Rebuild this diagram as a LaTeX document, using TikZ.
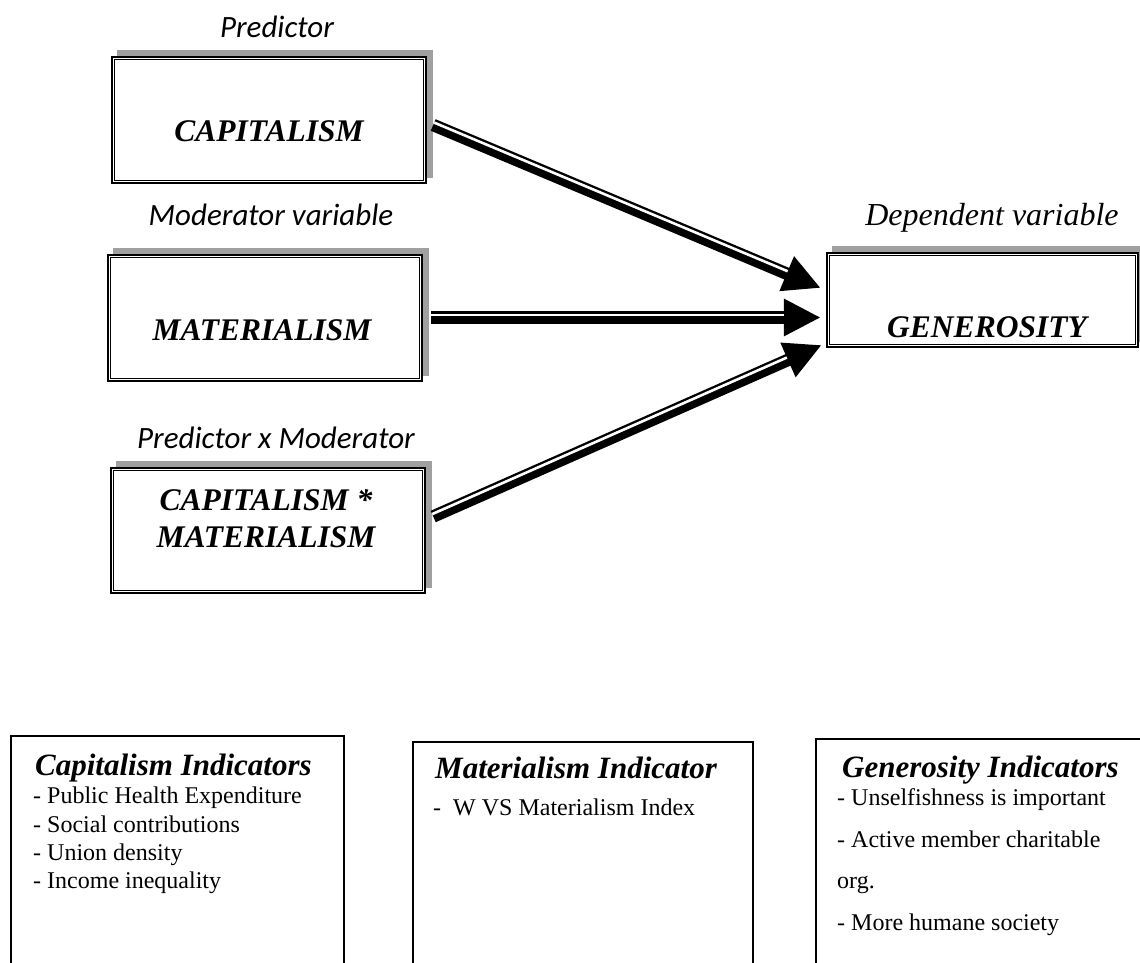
\documentclass[tikz,border=0pt]{standalone}
\usepackage{fontspec}
\setmainfont{Liberation Serif}
\newfontfamily\calib{Carlito}
\usetikzlibrary{arrows.meta,calc,backgrounds}
\definecolor{shgray}{HTML}{A0A0A0}
\begin{document}
\begin{tikzpicture}[x=1pt,y=-1pt,
  dbox/.style={draw, line width=2.4pt, fill=white, inner sep=0pt},
  innerframe/.style={draw, line width=1pt},
  vlabel/.style={font=\calib\itshape\fontsize{31}{36}\selectfont, anchor=base, inner sep=0pt},
  boxtext/.style={font=\bfseries\itshape\fontsize{31.5}{37}\selectfont, anchor=base, inner sep=0pt},
  ibox/.style={draw, line width=2pt, inner sep=0pt, anchor=north west},
  ititle/.style={font=\bfseries\itshape\fontsize{31}{36}\selectfont, anchor=base west, inner sep=0pt},
  itemtext/.style={font=\fontsize{24}{28}\selectfont, anchor=base west, inner sep=0pt},
  shaft/.style={line width=12.5pt, -{Triangle[length=37pt,width=35pt]}},
  gapline/.style={white, line width=2.6pt}
]
\useasboundingbox (0,0) rectangle (1140,963);
\clip (0,0) rectangle (1140,963);

% main boxes
\node[dbox, minimum width=314pt, minimum height=126pt] (cap) at (269,120) {};
\node[dbox, minimum width=314pt, minimum height=126pt] (mat) at (265,318) {};
\node[dbox, minimum width=314pt, minimum height=125pt] (cm) at (268,530.5) {};
\node[dbox, minimum width=311pt, minimum height=94pt] (gen) at (982.5,300) {};

\begin{scope}[on background layer]
  \foreach \n in {cap,mat,cm,gen}
    \fill[shgray] ([shift={(6pt,6pt)}]\n.north west) rectangle ([shift={(6pt,6pt)}]\n.south east);
\end{scope}
\foreach \n in {cap,mat,cm,gen}
  \draw[innerframe] ([shift={(4pt,-4pt)}]\n.north west) rectangle ([shift={(-4pt,4pt)}]\n.south east);

% box texts
\node[boxtext] (capt) at (269,142) {CAPITALISM};
\node[boxtext] (matt) at (262,340) {MATERIALISM};
\node[boxtext] (cmta) at (266,510) {CAPITALISM *};
\node[boxtext] (cmtb) at (266,547) {MATERIALISM};
\node[boxtext] (gent) at (987,337) {GENEROSITY};

% labels
\node[vlabel] (lpred) at (277,38) {Predictor};
\node[vlabel] (lmod) at (271,225) {Moderator variable};
\node[vlabel] (lint) at (276,448) {Predictor x Moderator};
\node[font=\itshape\fontsize{32}{38}\selectfont, anchor=base, inner sep=0pt] (ldep) at (992,225) {Dependent variable};

% arrows
\coordinate (a1s) at ($(cap.east)+(6,5)$);
\coordinate (a1e) at ($(gen.west)+(-5,-12)$);
\coordinate (a2s) at ($(mat.east)+(8,-0.5)$);
\coordinate (a2e) at ($(gen.west)+(-5,17.5)$);
\coordinate (a3s) at ($(cm.east)+(7,-14)$);
\coordinate (a3e) at ($(gen.west)+(-4,45)$);
\foreach \k in {1,2,3} {
  \draw[shaft] (a\k s) -- (a\k e);
  \coordinate (a\k m) at ($(a\k e)!37pt!(a\k s)$);
  \draw[gapline] ($(a\k s)!2.6pt!90:(a\k m)$) -- ($(a\k m)!2.6pt!-90:(a\k s)$);
}

% indicator boxes
\node[ibox, minimum width=333pt, minimum height=240pt] (bxa) at (10,735) {};
\node[ibox, minimum width=340pt, minimum height=240pt] (bxb) at (412,741) {};
\node[ibox, minimum width=340pt, minimum height=240pt] (bxc) at (815,738) {};

\node[ititle] (ta) at (35,775) {Capitalism Indicators};
\node[itemtext] (ia1) at (33,803) {- Public Health Expenditure};
\node[itemtext] (ia2) at (33,832) {- Social contributions};
\node[itemtext] (ia3) at (33,860) {- Union density};
\node[itemtext] (ia4) at (33,888) {- Income inequality};

\node[ititle] (tb) at (435,778) {Materialism Indicator};
\node[itemtext] (ib1) at (433,815) {-\ \ W VS Materialism Index};

\node[ititle] (tc) at (842,777) {Generosity Indicators};
\node[itemtext] (ic1) at (837,805) {- Unselfishness is important};
\node[itemtext] (ic2) at (837,847) {- Active member charitable};
\node[itemtext] (ic3) at (837,888) {org.};
\node[itemtext] (ic4) at (837,930) {- More humane society};
\end{tikzpicture}
\end{document}
